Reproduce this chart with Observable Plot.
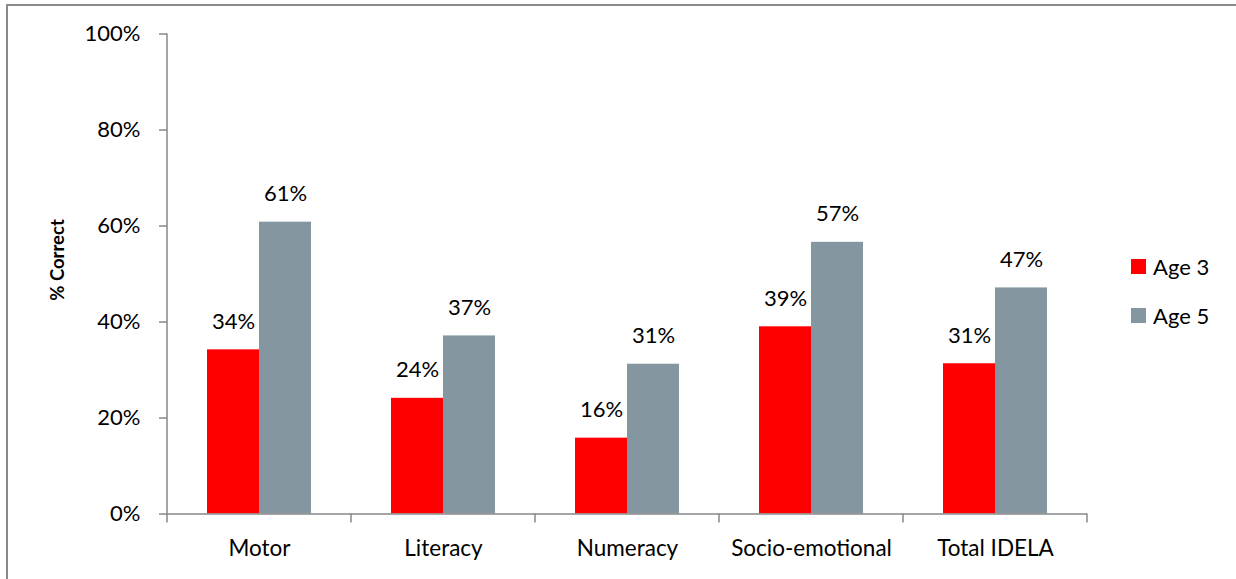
<!DOCTYPE html>
<html><head><meta charset="utf-8">
<script src="https://cdn.jsdelivr.net/npm/d3@7"></script>
<script src="https://cdn.jsdelivr.net/npm/@observablehq/plot@0.6"></script>
<style>
body{margin:0;background:#fff;}
#wrap{position:relative;width:1236px;height:579px;overflow:hidden;font-family:Lato,sans-serif;background:#fff;}
#border{position:absolute;left:6px;top:4px;width:1400px;height:800px;border-left:2px solid #8a8a8a;border-top:2px solid #8a8a8a;pointer-events:none;}
#chart{position:absolute;left:0;top:0;}
#ytitle{position:absolute;left:57px;top:260px;transform:translate(-50%,-50%) rotate(-90deg);font-weight:bold;font-size:18.5px;white-space:nowrap;color:#000;}
.leg{position:absolute;left:1131px;display:flex;align-items:center;font-size:22px;color:#000;height:20px;}
.leg span.sw{display:inline-block;width:15px;height:15px;margin-right:7px;}
</style></head>
<body>
<div id="wrap">
  <div id="chart"></div>
  <div id="ytitle">% Correct</div>
  <div id="legend"></div>
  <div id="border"></div>
</div>
<script>
const categories = ["Motor", "Literacy", "Numeracy", "Socio-emotional", "Total IDELA"];
const series = ["Age 3", "Age 5"];
const age3 = [34.2, 24.1, 15.8, 39.0, 31.3];
const age5 = [60.8, 37.1, 31.2, 56.6, 47.1];
const yTicks = [0, 20, 40, 60, 80, 100];
const colors = ["#ff0000", "#8496a0"];

const data = [];
categories.forEach((c, i) => {
  data.push({category: c, age: series[0], value: age3[i]});
  data.push({category: c, age: series[1], value: age5[i]});
});

const axisColor = "#878787";
const chart = Plot.plot({
  width: 1236,
  height: 579,
  marginLeft: 165,
  marginRight: 147,
  marginTop: 33.5,
  marginBottom: 65.5,
  style: {fontFamily: "Lato, sans-serif", fontSize: "22px", color: "#000", background: "transparent"},
  fx: {domain: categories, padding: 0, label: null, axis: null},
  x: {domain: series, paddingInner: 0, paddingOuter: 0.762, axis: null},
  y: {domain: [0, 100], axis: null},
  color: {domain: series, range: colors},
  marks: [
    Plot.barY(data, {fx: "category", x: "age", y: "value", fill: "age"}),
    Plot.ruleY([0], {stroke: axisColor, strokeWidth: 1.5}),
    Plot.axisY({ticks: yTicks, tickFormat: d => d + "%", tickSize: 8, tickPadding: 19, stroke: axisColor, strokeWidth: 1.5, fill: "#000", fontSize: 22, label: null}),
    Plot.axisFx({anchor: "bottom", tickSize: 0, tickPadding: 26, fill: "#000", fontSize: 22.5, label: null}),
    Plot.text(data, {fx: "category", x: "age", y: "value", text: d => Math.round(d.value) + "%", dy: -28, fontSize: 22, fill: "#000"})
  ]
});
document.getElementById("chart").appendChild(chart);

// axis line and category boundary ticks from the library scales
const fx = chart.scale("fx"), ys = chart.scale("y");
const svg = d3.select(chart.tagName.toLowerCase() === "svg" ? chart : chart.querySelector("svg"));
const y0 = ys.apply(0), y100 = ys.apply(100);
const edges = categories.map(c => fx.apply(c));
edges.push(edges[edges.length - 1] + fx.bandwidth);
const g = svg.append("g").attr("stroke", axisColor).attr("stroke-width", 1.5);
g.append("line").attr("x1", edges[0]).attr("x2", edges[0]).attr("y1", y0).attr("y2", y100);
edges.forEach(x => g.append("line").attr("x1", x).attr("x2", x).attr("y1", y0).attr("y2", y0 + 9));

// legend
const legend = document.getElementById("legend");
series.forEach((s, i) => {
  const d = document.createElement("div");
  d.className = "leg";
  d.style.top = (256 + i * 49) + "px";
  d.innerHTML = `<span class="sw" style="background:${colors[i]}"></span>${s}`;
  legend.appendChild(d);
});
</script>
</body></html>
